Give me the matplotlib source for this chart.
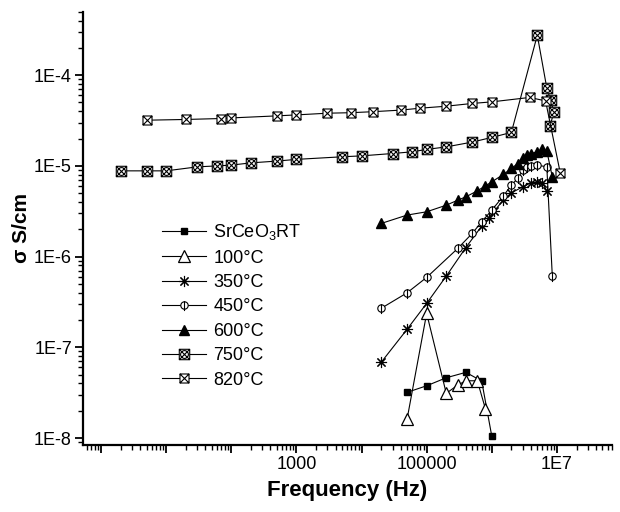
import numpy as np
import matplotlib
matplotlib.use('Agg')
import matplotlib.pyplot as plt
from matplotlib.path import Path
from matplotlib.ticker import LogLocator, NullFormatter, FuncFormatter

plt.rcParams['font.family'] = ['Liberation Sans', 'DejaVu Sans']
plt.rcParams['mathtext.default'] = 'regular'

# ---- data: frequency (Hz) and conductivity (S/cm)
f_rt = [5e4, 1e5, 2e5, 4e5, 7e5, 1e6]
s_rt = [3.19e-8, 3.77e-8, 4.62e-8, 5.3e-8, 4.25e-8, 1.05e-8]

f_100 = [5e4, 1e5, 2e5, 3e5, 4e5, 6e5, 8e5]
s_100 = [1.61e-8, 2.37e-7, 3.11e-8, 3.84e-8, 4.28e-8, 4.28e-8, 2.09e-8]

f_350 = [2e4, 5e4, 1e5, 2e5, 4e5, 7e5, 9e5, 1.1e6, 1.5e6, 2e6, 3e6, 4e6, 5e6, 6e6, 7e6]
s_350 = [6.83e-8, 1.58e-7, 3.05e-7, 6.1e-7, 1.26e-6, 2.17e-6, 2.64e-6, 3.2e-6,
         4.19e-6, 5.05e-6, 5.88e-6, 6.5e-6, 6.57e-6, 6.5e-6, 5.27e-6]

f_450 = [2e4, 5e4, 1e5, 3e5, 5e5, 7e5, 1e6, 1.5e6, 2e6, 2.5e6, 3e6, 3.5e6, 4e6, 5e6, 7e6, 8.5e6]
s_450 = [2.69e-7, 3.99e-7, 5.9e-7, 1.23e-6, 1.8e-6, 2.42e-6, 3.25e-6, 4.64e-6,
         6.14e-6, 7.27e-6, 8.98e-6, 9.76e-6, 9.94e-6, 1.02e-5, 9.76e-6, 6.1e-7]

f_600 = [2e4, 5e4, 1e5, 2e5, 3e5, 4e5, 6e5, 8e5, 1e6, 1.5e6, 2e6, 2.5e6, 3e6,
         3.5e6, 4e6, 5e6, 6e6, 7e6, 8.5e6]
s_600 = [2.32e-6, 2.87e-6, 3.12e-6, 3.69e-6, 4.19e-6, 4.56e-6, 5.31e-6, 6.03e-6,
         6.67e-6, 8.04e-6, 9.37e-6, 1.06e-5, 1.21e-5, 1.31e-5, 1.37e-5, 1.43e-5,
         1.52e-5, 1.46e-5, 7.57e-6]

f_750 = [2, 5, 10, 30, 60, 100, 200, 500, 1e3, 5e3, 1e4, 3e4, 6e4, 1e5, 2e5,
         5e5, 1e6, 2e6, 5e6, 7e6, 8e6, 9e6, 7.8e6]
s_750 = [8.82e-6, 8.82e-6, 8.82e-6, 9.76e-6, 1.0e-5, 1.02e-5, 1.08e-5, 1.13e-5,
         1.18e-5, 1.26e-5, 1.29e-5, 1.37e-5, 1.43e-5, 1.52e-5, 1.62e-5, 1.83e-5,
         2.06e-5, 2.34e-5, 2.76e-4, 7.2e-5, 5.3e-5, 3.9e-5, 2.74e-5]

f_820 = [5, 20, 70, 100, 500, 1e3, 3e3, 7e3, 1.5e4, 4e4, 8e4, 2e5, 5e5, 1e6,
         3.8e6, 6.7e6, 1.13e7]
s_820 = [3.19e-5, 3.25e-5, 3.33e-5, 3.38e-5, 3.56e-5, 3.65e-5, 3.81e-5, 3.86e-5,
         3.96e-5, 4.12e-5, 4.33e-5, 4.55e-5, 4.88e-5, 5.08e-5, 5.68e-5, 5.21e-5,
         8.26e-6]

labels = ['SrCeO$_3$RT', '100°C', '350°C', '450°C', '600°C', '750°C', '820°C']

# ---- custom symbols
circ = Path.unit_circle()
sq = Path([(-1, -1), (1, -1), (1, 1), (-1, 1), (-1, -1)],
          [Path.MOVETO, Path.LINETO, Path.LINETO, Path.LINETO, Path.CLOSEPOLY])
xcross = Path([(-1, -1), (1, 1), (-1, 1), (1, -1)],
              [Path.MOVETO, Path.LINETO, Path.MOVETO, Path.LINETO])
vbar = Path([(0, -1.5), (0, 1)], [Path.MOVETO, Path.LINETO])
small_circ = Path(circ.vertices * 0.75, circ.codes)

m_450 = Path.make_compound_path(circ, vbar)
m_750 = Path.make_compound_path(sq, small_circ, xcross)
m_820 = Path.make_compound_path(sq, xcross)

fig = plt.figure(figsize=(6.2, 5.12), dpi=100)
ax = fig.add_axes([0.134, 0.131, 0.853, 0.846])

lw = 0.8
ax.plot(f_rt, s_rt, '-', color='k', lw=lw, marker='s', ms=4.5, mfc='k', mec='k', label=labels[0])
ax.plot(f_100, s_100, '-', color='k', lw=lw, marker='^', ms=8, mfc='white', mec='k', mew=0.9, label=labels[1])
ax.plot(f_350, s_350, '-', color='k', lw=lw, marker=(8, 2, 0), ms=8, mec='k', mew=0.8, label=labels[2])
ax.plot(f_450, s_450, '-', color='k', lw=lw, marker=m_450, ms=8, mfc='white', mec='k', mew=0.8, label=labels[3])
ax.plot(f_600, s_600, '-', color='k', lw=lw, marker='^', ms=7, mfc='k', mec='k', label=labels[4])
ax.plot(f_750, s_750, '-', color='k', lw=lw, marker=m_750, ms=7.5, mfc='white', mec='k', mew=0.8, label=labels[5])
ax.plot(f_820, s_820, '-', color='k', lw=lw, marker=m_820, ms=6.5, mfc='white', mec='k', mew=0.8, label=labels[6])

ax.set_xscale('log')
ax.set_yscale('log')
ax.set_xlim(0.53, 7e7)
ax.set_ylim(8.4e-9, 5e-4)

for s in ['top', 'right']:
    ax.spines[s].set_visible(False)
for s in ['left', 'bottom']:
    ax.spines[s].set_linewidth(1.6)

ax.xaxis.set_major_locator(LogLocator(base=10, numticks=20))
ax.xaxis.set_minor_locator(LogLocator(base=10, subs=np.arange(2, 10), numticks=20))
ax.xaxis.set_minor_formatter(NullFormatter())
xshow = {3: '1000', 5: '100000', 7: '1E7'}
ax.xaxis.set_major_formatter(FuncFormatter(lambda v, p: xshow.get(int(round(np.log10(v))), '')))

ax.yaxis.set_major_locator(LogLocator(base=10, numticks=20))
ax.yaxis.set_minor_locator(LogLocator(base=10, subs=np.arange(2, 10), numticks=20))
ax.yaxis.set_minor_formatter(NullFormatter())
ax.yaxis.set_major_formatter(FuncFormatter(lambda v, p: '1E%d' % int(round(np.log10(v)))))

ax.tick_params(which='major', direction='out', length=6, width=1.3, labelsize=13, pad=2)
ax.tick_params(which='minor', direction='out', length=3.5, width=1.0)

ax.set_xlabel('Frequency (Hz)', fontsize=16, fontweight='bold', labelpad=5)
ax.set_ylabel('σ S/cm', fontsize=15, fontweight='bold', labelpad=2)

ax.legend(loc='upper left', bbox_to_anchor=(0.149, 0.514), frameon=False,
          fontsize=13, handlelength=2.45, handletextpad=0.4, labelspacing=0.41,
          borderpad=0, borderaxespad=0)

fig.savefig('out.png', dpi=100)
